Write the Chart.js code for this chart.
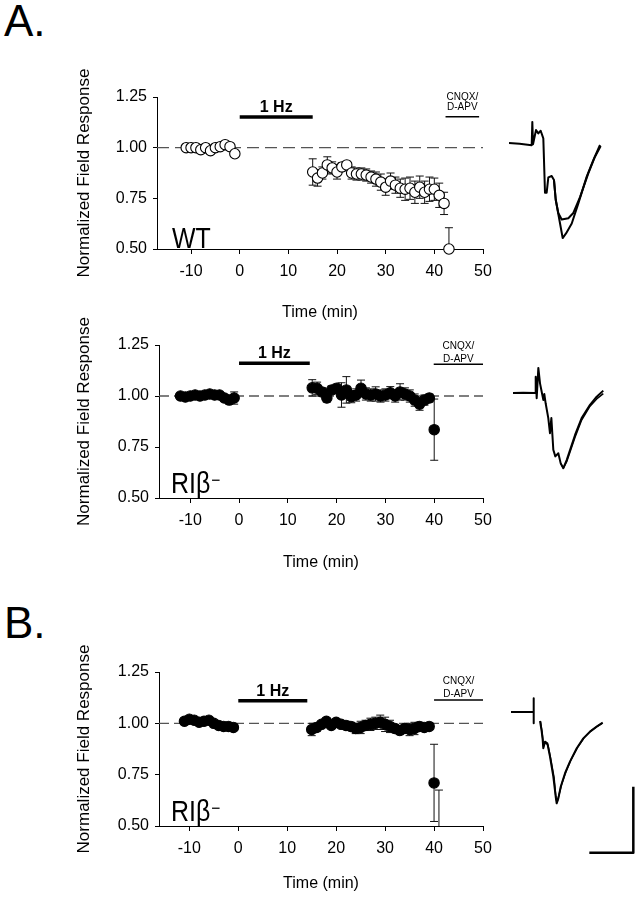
<!DOCTYPE html>
<html><head><meta charset="utf-8">
<script src="https://cdn.jsdelivr.net/npm/chart.js@4.4.0/dist/chart.umd.min.js"></script>
<style>
body{margin:0;background:#fff;width:638px;height:900px;position:relative;overflow:hidden;font-family:Arial,"Liberation Sans",sans-serif}
canvas{position:absolute;display:block}
.lbl{position:absolute;font-size:44px;line-height:1;color:#000}
</style></head><body>
<div class="lbl" style="left:4px;top:-1px">A.</div>
<div class="lbl" style="left:4px;top:601px">B.</div>
<canvas id="p1" width="500" height="275" style="left:0;top:55px"></canvas>
<canvas id="p2" width="500" height="275" style="left:0;top:305px"></canvas>
<canvas id="p3" width="500" height="270" style="left:0;top:630px"></canvas>
<canvas id="t1" width="110" height="140" style="left:500px;top:110px"></canvas>
<canvas id="t2" width="115" height="125" style="left:500px;top:355px"></canvas>
<canvas id="t3" width="138" height="170" style="left:500px;top:690px"></canvas>
<script>
// ---------- axis ticks ----------
const xTicks = [-10, 0, 10, 20, 30, 40, 50];
const yTicks = [0.50, 0.75, 1.00, 1.25];
const refLevel = 1.0;
const stimStart = 0;
const stimLabel = '1 Hz';
const drugLabel = ['CNQX/', 'D-APV'];

// ---------- Panel A top: WT ----------
const wtTime = [-11,-10,-9,-8,-7,-6,-5,-4,-3,-2,-1,
  15,16,17,18,19,20,21,22,23,24,25,26,27,28,29,30,31,32,33,34,35,36,37,38,39,40,41,42,43];
const wtMean = [1.00,1.00,1.00,0.99,1.00,0.985,1.00,1.005,1.015,1.005,0.97,
  0.88,0.85,0.875,0.915,0.90,0.88,0.905,0.915,0.875,0.87,0.87,0.865,0.855,0.845,0.83,0.805,0.835,0.815,0.80,0.795,0.80,0.78,0.805,0.78,0.795,0.795,0.765,0.725,0.50];
const wtSem = [0.005,0.005,0.005,0.005,0.005,0.005,0.005,0.005,0.005,0.005,0.01,
  0.065,0.04,0.03,0.04,0.03,0.035,0.02,0.015,0.03,0.03,0.03,0.03,0.03,0.035,0.04,0.04,0.04,0.04,0.045,0.055,0.055,0.055,0.055,0.055,0.06,0.055,0.06,0.055,0.105];

// ---------- Panel A bottom: RIβ- ----------
const riTime = [-12,-11,-10,-9,-8,-7,-6,-5,-4,-3,-2,-1,
  15,16,17,18,19,20,21,22,23,24,25,26,27,28,29,30,31,32,33,34,35,36,37,38,39,40];
const riMean = [1.00,0.995,1.00,1.005,1.00,1.005,1.01,1.005,1.005,0.99,0.98,0.99,
  1.04,1.038,1.02,0.99,1.03,1.038,1.005,1.03,0.997,1.005,1.038,1.01,1.005,1.01,1.00,1.005,1.016,1.00,1.02,1.01,1.00,0.98,0.96,0.98,0.99,0.835];
const riSem = [0.008,0.008,0.008,0.008,0.008,0.008,0.008,0.008,0.01,0.015,0.02,0.03,
  0.04,0.03,0.02,0.02,0.02,0.02,0.06,0.065,0.03,0.03,0.04,0.03,0.03,0.035,0.03,0.03,0.03,0.03,0.04,0.03,0.03,0.03,0.03,0.025,0.02,0.15];

// ---------- Panel B: RIβ- ----------
const bTime = [-11,-10,-9,-8,-7,-6,-5,-4,-3,-2,-1,
  15,16,17,18,19,20,21,22,23,24,25,26,27,28,29,30,31,32,33,34,35,36,37,38,39,40];
const bMean = [1.01,1.02,1.015,1.005,1.01,1.015,1.00,0.99,0.985,0.985,0.98,
  0.97,0.98,0.995,1.01,0.99,1.005,0.995,0.99,0.985,0.975,0.98,0.99,0.995,1.00,1.005,0.995,0.985,0.975,0.965,0.975,0.97,0.975,0.985,0.98,0.985,0.71];
const bSem = [0.015,0.012,0.01,0.01,0.01,0.01,0.01,0.01,0.01,0.01,0.01,
  0.03,0.02,0.015,0.015,0.015,0.015,0.015,0.02,0.02,0.025,0.03,0.025,0.03,0.03,0.035,0.035,0.03,0.02,0.02,0.02,0.03,0.03,0.02,0.015,0.015,0.188];
const bExtraTime = [41];
const bExtraMean = [0.585];
const bExtraSem = [0.09];

// ---------- example traces (ms, mV) ----------
const traceA_deep = [[0,0],[1.2,-0.005],[2.58,-0.017],[2.65,0.16],[2.73,-0.01],[3.07,0.098],[3.33,0.073],[3.6,0.093],[3.9,0.035],[4.09,-0.376],[4.28,-0.376],[4.47,-0.26],[4.85,-0.25],[5.11,-0.28],[5.31,-0.43],[5.8,-0.61],[6.1,-0.72],[6.48,-0.685],[7.13,-0.61],[7.88,-0.457],[8.83,-0.255],[9.58,-0.13],[10.34,-0.015]];
const traceA_shallow = [[5.11,-0.28],[5.31,-0.43],[5.6,-0.53],[5.99,-0.58],[6.74,-0.57],[7.31,-0.53],[8.07,-0.41],[9.01,-0.23],[9.77,-0.104],[10.42,-0.023]];
const traceB_1 = [[0,0],[1.17,0.002],[2.5,0],[2.58,0.124],[2.69,-0.04],[2.88,0.19],[3.07,0.073],[3.26,0.01],[3.45,-0.053],[3.56,-0.008],[3.71,-0.078],[4.01,-0.19],[4.2,-0.305],[4.36,-0.19],[4.58,-0.43],[4.81,-0.48],[5.15,-0.457],[5.42,-0.533],[5.72,-0.57],[6.1,-0.508],[7.05,-0.318],[7.8,-0.19],[8.75,-0.09],[9.51,-0.028],[10.26,0.018]];
const traceB_2 = [[5.42,-0.533],[5.72,-0.57],[6.1,-0.52],[7.05,-0.335],[7.8,-0.205],[8.75,-0.1],[9.51,-0.045],[10.26,-0.005]];
const traceC_base = [[0,0],[2.58,0],[2.58,0.104],[2.58,-0.086]];
const traceC_1 = [[3.3,-0.068],[3.49,-0.149],[3.6,-0.212],[3.67,-0.275],[3.86,-0.225],[4.13,-0.237],[4.43,-0.338],[4.81,-0.49],[5.08,-0.642],[5.19,-0.692],[5.38,-0.654],[5.65,-0.566],[6.14,-0.464],[6.7,-0.376],[7.47,-0.275],[8.22,-0.2],[8.98,-0.149],[9.74,-0.111],[10.42,-0.081]];
const traceC_2 = [[3.35,-0.07],[3.55,-0.16],[3.7,-0.26],[3.9,-0.23],[4.2,-0.25],[4.5,-0.35],[4.9,-0.5],[5.12,-0.66],[5.25,-0.68],[5.45,-0.63],[5.75,-0.55],[6.25,-0.45],[6.8,-0.365],[7.55,-0.27],[8.3,-0.195],[9.05,-0.145],[9.8,-0.108],[10.4,-0.085]];
const scaleBar = [[8.9,-1.066],[13.9,-1.066],[13.9,-0.566]]; // 5 ms, 0.5 mV

const FAM = 'Arial, "Liberation Sans", Helvetica, sans-serif';

function makeMain(id, P) {
  const plugin = {
    id: 'panel_' + id,
    beforeDatasetsDraw(chart) {
      const {ctx, chartArea: a, scales: {x, y}} = chart;
      ctx.save();
      ctx.strokeStyle = '#555'; ctx.lineWidth = 1.3; ctx.setLineDash(P.dash);
      const yr = y.getPixelForValue(refLevel);
      ctx.beginPath(); ctx.moveTo(a.left, yr); ctx.lineTo(x.getPixelForValue(xTicks[xTicks.length-1]), yr); ctx.stroke();
      ctx.setLineDash([]);
      ctx.beginPath(); ctx.rect(a.left, a.top - 30, a.right - a.left + 10, a.bottom - a.top + 30); ctx.clip();
      ctx.strokeStyle = '#111'; ctx.lineWidth = 1;
      P.err.forEach(g => g.time.forEach((t, i) => {
        const px = x.getPixelForValue(t);
        const y1 = y.getPixelForValue(g.mean[i] + g.sem[i]);
        const y2 = y.getPixelForValue(g.mean[i] - g.sem[i]);
        ctx.beginPath();
        ctx.moveTo(px, y1); ctx.lineTo(px, y2);
        ctx.moveTo(px - 4, y1); ctx.lineTo(px + 4, y1);
        ctx.moveTo(px - 4, y2); ctx.lineTo(px + 4, y2);
        ctx.stroke();
      }));
      ctx.restore();
    },
    afterDatasetsDraw(chart) {
      const {ctx, chartArea: a, scales: {x, y}} = chart;
      ctx.save();
      ctx.fillStyle = '#000'; ctx.strokeStyle = '#000';
      // stimulation bar
      const yb = a.top + P.stimOff;
      ctx.lineWidth = 3.5;
      const xs0 = x.getPixelForValue(stimStart), xs1 = x.getPixelForValue(P.stimEnd);
      ctx.beginPath(); ctx.moveTo(xs0, yb); ctx.lineTo(xs1, yb); ctx.stroke();
      ctx.font = 'bold 16px ' + FAM; ctx.textAlign = 'center'; ctx.textBaseline = 'alphabetic';
      ctx.fillText(stimLabel, (xs0 + xs1) / 2, yb - 5);
      // drug bar
      const yd = a.top + P.drugOff;
      const xd0 = x.getPixelForValue(P.drug[0]), xd1 = x.getPixelForValue(P.drug[1]);
      ctx.lineWidth = 1.5;
      ctx.beginPath(); ctx.moveTo(xd0, yd); ctx.lineTo(xd1, yd); ctx.stroke();
      ctx.font = '10px ' + FAM;
      ctx.fillText(drugLabel[0], (xd0 + xd1) / 2, yd + P.drugText[0]);
      ctx.fillText(drugLabel[1], (xd0 + xd1) / 2, yd + P.drugText[1]);
      // group label
      ctx.translate(a.left + P.labelDx, a.bottom + P.labelDy);
      ctx.scale(0.86, 1);
      ctx.textAlign = 'left';
      ctx.font = '29px ' + FAM;
      ctx.fillText(P.label, 0, 0);
      if (P.sup) {
        const w = ctx.measureText(P.label).width;
        ctx.font = '18px ' + FAM;
        ctx.fillText(P.sup, w + 1, -7);
      }
      ctx.restore();
    }
  };
  new Chart(document.getElementById(id), {
    type: 'scatter',
    data: { datasets: [{
      data: P.time.map((t, i) => ({x: t, y: P.mean[i]})),
      pointRadius: 5.2, pointBorderWidth: 1.1,
      pointBackgroundColor: P.fill, pointBorderColor: '#000',
      showLine: false, clip: false
    }]},
    options: {
      responsive: false, animation: false, events: [],
      layout: { padding: { left: 0, right: 17, top: P.padTop, bottom: 0 } },
      plugins: { legend: { display: false }, tooltip: { enabled: false } },
      scales: {
        x: {
          type: 'linear', min: P.xMin, max: xTicks[xTicks.length-1],
          afterBuildTicks: s => { s.ticks = xTicks.map(v => ({value: v})); },
          afterFit: s => { s.height = P.xH; },
          grid: { drawOnChartArea: false, drawTicks: true, tickLength: 5, color: '#000', lineWidth: 1 },
          border: { display: true, color: '#000', width: 1 },
          ticks: { color: '#000', font: { family: FAM, size: 16 }, padding: 8, maxRotation: 0, callback: v => String(v) },
          title: { display: true, text: 'Time (min)', color: '#000', font: { family: FAM, size: 16 }, padding: { top: 0, bottom: P.xTitlePad } }
        },
        y: {
          type: 'linear', min: yTicks[0], max: yTicks[yTicks.length-1],
          afterBuildTicks: s => { s.ticks = yTicks.map(v => ({value: v})); },
          afterFit: s => { s.width = P.yW; },
          grid: { drawOnChartArea: false, drawTicks: true, tickLength: 4, color: '#000', lineWidth: 1 },
          border: { display: true, color: '#000', width: 1 },
          ticks: { color: '#000', font: { family: FAM, size: 16 }, padding: 6, callback: v => Number(v).toFixed(2) },
          title: { display: true, text: 'Normalized Field Response', color: '#000', font: { family: FAM, size: 17 }, padding: { top: 74, bottom: 0 } }
        }
      }
    },
    plugins: [plugin]
  });
}

makeMain('p1', { time: wtTime, mean: wtMean, fill: '#fff',
  err: [{time: wtTime, mean: wtMean, sem: wtSem}],
  padTop: 42, xH: 81, xTitlePad: 8, yW: 157, xMin: -17, dash: [12, 6],
  stimEnd: 15, stimOff: 20, drug: [42.3, 49.2], drugOff: 19.7, drugText: [-17, -6.5],
  label: 'WT', sup: '', labelDx: 15, labelDy: -1 });

makeMain('p2', { time: riTime, mean: riMean, fill: '#000',
  err: [{time: riTime, mean: riMean, sem: riSem}],
  padTop: 40, xH: 82, xTitlePad: 8, yW: 159, xMin: -16.4, dash: [10, 5],
  stimEnd: 14.5, stimOff: 18.3, drug: [39.9, 50], drugOff: 19.3, drugText: [-15.7, -2.6],
  label: 'RIβ', sup: '−', labelDx: 12, labelDy: -5 });

makeMain('p3', { time: bTime, mean: bMean, fill: '#000',
  err: [{time: bTime, mean: bMean, sem: bSem}, {time: bExtraTime, mean: bExtraMean, sem: bExtraSem}],
  padTop: 42, xH: 74, xTitlePad: 6.5, yW: 159, xMin: -16.2, dash: [10, 5],
  stimEnd: 14.1, stimOff: 28.7, drug: [40, 50], drugOff: 28, drugText: [-16.4, -3],
  label: 'RIβ', sup: '−', labelDx: 12, labelDy: -5 });

// ---------- trace insets ----------
const PX_MS = 8.8, PX_MV = 132;
function traceChart(id, box, segs) {
  const cv = document.getElementById(id);
  const xMin = (box.left - box.x0) / PX_MS, xMax = (box.left + box.w - box.x0) / PX_MS;
  const yMax = (box.y0 - box.top) / PX_MV, yMin = (box.y0 - box.top - box.h) / PX_MV;
  new Chart(cv, {
    type: 'scatter',
    data: { datasets: segs.map(s => ({
      data: s.pts.map(p => ({x: p[0], y: p[1]})),
      showLine: true, pointRadius: 0, borderColor: '#000', borderWidth: s.w || 2,
      fill: false, tension: 0, clip: false, borderJoinStyle: 'round'
    }))},
    options: {
      responsive: false, animation: false, events: [],
      layout: { padding: 0 },
      plugins: { legend: { display: false }, tooltip: { enabled: false } },
      scales: {
        x: { type: 'linear', display: false, min: xMin, max: xMax },
        y: { type: 'linear', display: false, min: yMin, max: yMax }
      }
    }
  });
}
traceChart('t1', {left: 500, top: 110, w: 110, h: 140, x0: 509, y0: 143},
  [{pts: traceA_deep}, {pts: traceA_shallow}]);
traceChart('t2', {left: 500, top: 355, w: 115, h: 125, x0: 513, y0: 393},
  [{pts: traceB_1}, {pts: traceB_2, w: 1.5}]);
traceChart('t3', {left: 500, top: 690, w: 138, h: 170, x0: 511, y0: 712},
  [{pts: traceC_base}, {pts: traceC_1}, {pts: traceC_2, w: 1.5}, {pts: scaleBar, w: 2.5}]);
</script>
</body></html>
